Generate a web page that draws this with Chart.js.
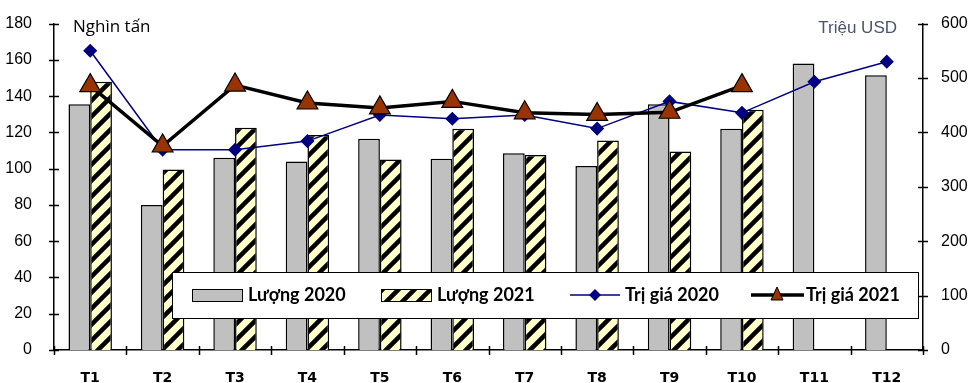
<!DOCTYPE html>
<html>
<head>
<meta charset="utf-8">
<script src="https://cdn.jsdelivr.net/npm/chart.js@4.4.1/dist/chart.umd.min.js"></script>
<style>
  html, body { margin: 0; padding: 0; background: #fff; }
  canvas { display: block; }
</style>
</head>
<body>
<canvas id="chart" width="970" height="383"></canvas>
<script>
// Data
const months = ['T1', 'T2', 'T3', 'T4', 'T5', 'T6', 'T7', 'T8', 'T9', 'T10', 'T11', 'T12'];
const luong2020 = [135.5, 80, 106, 104, 116.5, 105.5, 108.5, 101.5, 135.5, 122, 158, 151.5];
const luong2021 = [148, 99.5, 122.5, 118.5, 105, 122, 107.5, 115.5, 109.5, 132.5, null, null];
const triGia2020 = [550, 368, 368, 384, 432, 425, 432, 407, 457, 436, 493, 530];
const triGia2021 = [486, 375, 487, 454, 445, 457, 436, 433, 437, 486, null, null];
const leftTicks = [0, 20, 40, 60, 80, 100, 120, 140, 160, 180];
const rightTicks = [0, 100, 200, 300, 400, 500, 600];

const canvas = document.getElementById('chart');
const ctx = canvas.getContext('2d');

// yellow bars with black diagonal stripes
function makeHatch() {
  const c = document.createElement('canvas');
  c.width = 16; c.height = 16;
  const g = c.getContext('2d');
  g.fillStyle = '#FFFFCC';
  g.fillRect(0, 0, 16, 16);
  g.strokeStyle = '#000';
  g.lineWidth = 4.5;
  g.beginPath();
  g.moveTo(-4, 20); g.lineTo(20, -4);
  g.moveTo(-4, 4); g.lineTo(4, -4);
  g.moveTo(12, 20); g.lineTo(20, 12);
  g.stroke();
  return ctx.createPattern(c, 'repeat');
}
const hatch = makeHatch();

const axisFont = { family: 'Liberation Sans, Arial', size: 16 };

// crossing tick marks, unit labels and the legend box
const extras = {
  id: 'extras',
  afterDraw(chart) {
    const c = chart.ctx;
    const area = chart.chartArea;
    const y = chart.scales.y, y1 = chart.scales.y1;
    c.save();
    c.strokeStyle = '#000';
    c.lineWidth = 1.5;
    c.beginPath();
    leftTicks.forEach(v => {
      const py = Math.round(y.getPixelForValue(v)) + 0.5;
      c.moveTo(area.left - 5, py); c.lineTo(area.left + 5, py);
    });
    rightTicks.forEach(v => {
      const py = Math.round(y1.getPixelForValue(v)) + 0.5;
      c.moveTo(area.right - 5, py); c.lineTo(area.right + 5, py);
    });
    const step = (area.right - area.left) / months.length;
    for (let i = 0; i <= months.length; i++) {
      const px = Math.round(area.left + i * step) + 0.5;
      c.moveTo(px, area.bottom - 4); c.lineTo(px, area.bottom + 5);
    }
    c.stroke();

    // unit labels
    c.font = '17px "Open Sans"';
    c.fillStyle = '#000';
    c.textBaseline = 'middle';
    c.textAlign = 'left';
    c.fillText('Nghìn tấn', 73, 27);
    c.font = '17px "Liberation Sans"';
    c.fillStyle = '#4a5670';
    c.textAlign = 'right';
    c.fillText('Triệu USD', 897, 28);

    // legend
    const lx = 172, ly = 272, lw = 746, lh = 46;
    const cy = ly + lh / 2;
    c.fillStyle = '#fff';
    c.fillRect(lx, ly, lw, lh);
    c.lineWidth = 1;
    c.strokeStyle = '#000';
    c.strokeRect(lx + 0.5, ly + 0.5, lw, lh);

    c.font = 'bold 18px Lato';
    c.textAlign = 'left';

    // Lượng 2020
    c.fillStyle = '#C0C0C0';
    c.fillRect(192, cy - 6, 50, 12);
    c.strokeRect(192.5, cy - 5.5, 50, 12);
    c.fillStyle = '#000';
    c.fillText('Lượng 2020', 248, cy);

    // Lượng 2021
    c.fillStyle = hatch;
    c.fillRect(381, cy - 6, 50, 12);
    c.strokeRect(381.5, cy - 5.5, 50, 12);
    c.fillStyle = '#000';
    c.fillText('Lượng 2021', 437, cy);

    // Trị giá 2020
    c.strokeStyle = '#000080';
    c.lineWidth = 1.5;
    c.beginPath(); c.moveTo(570, cy); c.lineTo(620, cy); c.stroke();
    c.fillStyle = '#000080';
    c.beginPath();
    c.moveTo(595, cy - 6); c.lineTo(601, cy); c.lineTo(595, cy + 6); c.lineTo(589, cy);
    c.closePath(); c.fill();
    c.fillStyle = '#000';
    c.fillText('Trị giá 2020', 625, cy);

    // Trị giá 2021
    c.strokeStyle = '#000';
    c.lineWidth = 3.5;
    c.beginPath(); c.moveTo(751, cy); c.lineTo(804, cy); c.stroke();
    c.fillStyle = '#993300';
    c.lineWidth = 1;
    c.beginPath();
    c.moveTo(777, cy - 8); c.lineTo(783, cy + 5); c.lineTo(771, cy + 5);
    c.closePath(); c.fill(); c.stroke();
    c.fillStyle = '#000';
    c.fillText('Trị giá 2021', 806, cy);
    c.restore();
  }
};

new Chart(canvas, {
  type: 'bar',
  data: {
    labels: months,
    datasets: [{
      type: 'line',
      label: 'Trị giá 2021',
      data: triGia2021,
      yAxisID: 'y1',
      borderColor: '#000',
      borderWidth: 3.5,
      tension: 0,
      pointStyle: 'triangle',
      pointRadius: 12,
      pointBackgroundColor: '#993300',
      pointBorderColor: '#000',
      pointBorderWidth: 1.2,
      order: 0
    }, {
      type: 'line',
      label: 'Trị giá 2020',
      data: triGia2020,
      yAxisID: 'y1',
      borderColor: '#000080',
      borderWidth: 1.5,
      tension: 0,
      pointStyle: 'rectRot',
      pointRadius: 6,
      pointBackgroundColor: '#000080',
      pointBorderColor: '#000080',
      order: 1
    }, {
      label: 'Lượng 2020',
      data: luong2020,
      yAxisID: 'y',
      backgroundColor: '#C0C0C0',
      borderColor: '#000',
      borderWidth: 1.5,
      categoryPercentage: 0.6,
      barPercentage: 1.0,
      order: 2
    }, {
      label: 'Lượng 2021',
      data: luong2021,
      yAxisID: 'y',
      backgroundColor: hatch,
      borderColor: '#000',
      borderWidth: 1.5,
      categoryPercentage: 0.6,
      barPercentage: 1.0,
      order: 2
    }]
  },
  options: {
    responsive: false,
    animation: false,
    devicePixelRatio: 1,
    layout: { padding: { top: 19, left: 0, right: 0, bottom: 0 } },
    plugins: {
      legend: { display: false },
      tooltip: { enabled: false },
      title: { display: false }
    },
    scales: {
      x: {
        grid: { display: false },
        border: { display: true, color: '#000', width: 1.5 },
        ticks: {
          color: '#000',
          padding: 12,
          font: { family: 'DejaVu Sans', size: 14, weight: 'bold' }
        },
        afterFit(s) { s.height = 33; }
      },
      y: {
        position: 'left',
        min: 0, max: 180,
        grid: { display: false },
        border: { display: true, color: '#000', width: 1.5 },
        ticks: { stepSize: 20, color: '#000', padding: 14, font: axisFont },
        afterFit(s) { s.width = 54; }
      },
      y1: {
        position: 'right',
        min: 0, max: 600,
        grid: { display: false },
        border: { display: true, color: '#000', width: 1.5 },
        ticks: { stepSize: 100, color: '#000', padding: 10, font: axisFont },
        afterFit(s) { s.width = 47; }
      }
    }
  },
  plugins: [extras]
});
</script>
</body>
</html>
